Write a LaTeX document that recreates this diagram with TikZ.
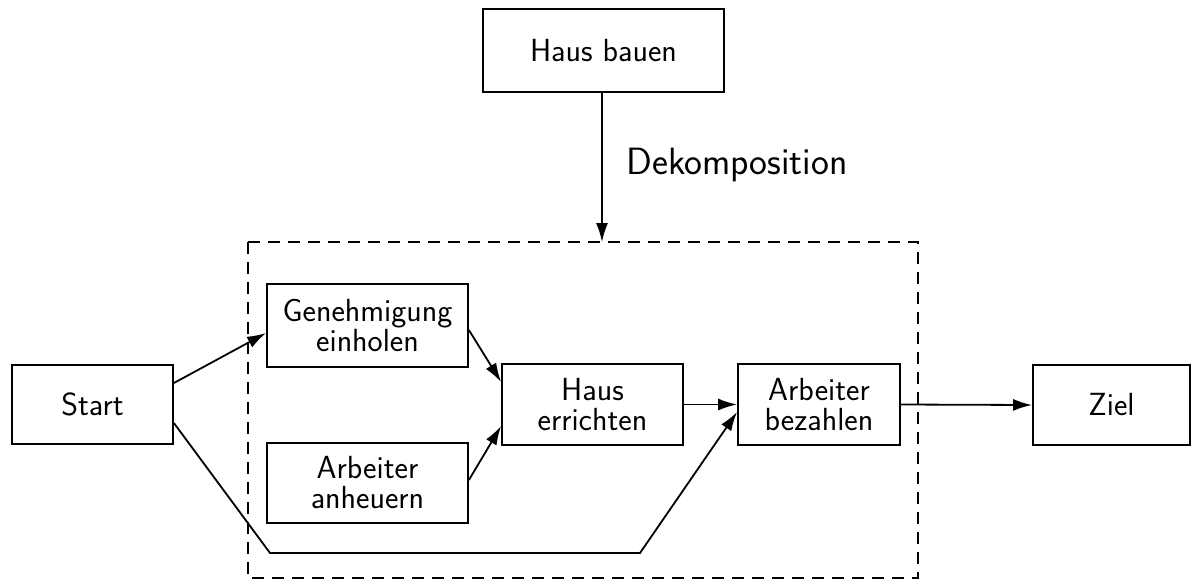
\documentclass[tikz,border=0pt]{standalone}
\usetikzlibrary{arrows.meta}
\begin{document}
\begin{tikzpicture}[x=1pt,y=-1pt,
  task/.style={draw,line width=1.8pt,rectangle,inner sep=0pt,align=center,
    font=\sffamily\fontsize{32}{30}\selectfont},
  flow/.style={line width=1.8pt,-{Latex[length=19pt,width=12pt]}},
  frame/.style={draw,line width=1.8pt,dash pattern=on 12pt off 8pt}]
\useasboundingbox (0,0) rectangle (1192,582);

% top-level task and its decomposition
\node[task,minimum width=241pt,minimum height=83pt] (hb) at (603.5,50.5) {Haus bauen};
\draw[frame] (248,242) rectangle (918,578);
\coordinate (dektop) at (602,242);
\node[font=\sffamily\fontsize{38}{44}\selectfont] (dek) at (737,165) {Dekomposition};

% plan steps
\node[task,minimum width=161pt,minimum height=79pt] (start) at (92.5,404.5) {Start};
\node[task,minimum width=201pt,minimum height=83pt] (gen) at (367.5,325.5) {Genehmigung\\einholen};
\node[task,minimum width=201pt,minimum height=80pt] (anh) at (367.5,483) {Arbeiter\\anheuern};
\node[task,minimum width=181pt,minimum height=81pt] (he) at (592.5,404.5) {Haus\\errichten};
\node[task,minimum width=162pt,minimum height=81pt] (ab) at (819,404.5) {Arbeiter\\bezahlen};
\node[task,minimum width=157pt,minimum height=80pt] (ziel) at (1111.5,405) {Ziel};

\coordinate (b1) at (270,553);
\coordinate (b2) at (640,553);

% ordering constraints
\draw[flow] (hb.south -| dektop) -- (dektop);
\draw[flow] ([yshift=21.5pt]start.east) -- ([yshift=-7.5pt]gen.west);
\draw[flow] ([yshift=-4.5pt]gen.east) -- ([yshift=22.5pt]he.west);
\draw[flow] ([yshift=3pt]anh.east) -- ([yshift=-21.5pt]he.west);
\draw[flow] (he.east) -- (ab.west);
\draw[flow] ([yshift=-18.5pt]start.east) -- (b1) -- (b2) -- ([yshift=-7.5pt]ab.west);
\draw[flow] (ab.east) -- (ziel.west);
\end{tikzpicture}
\end{document}
